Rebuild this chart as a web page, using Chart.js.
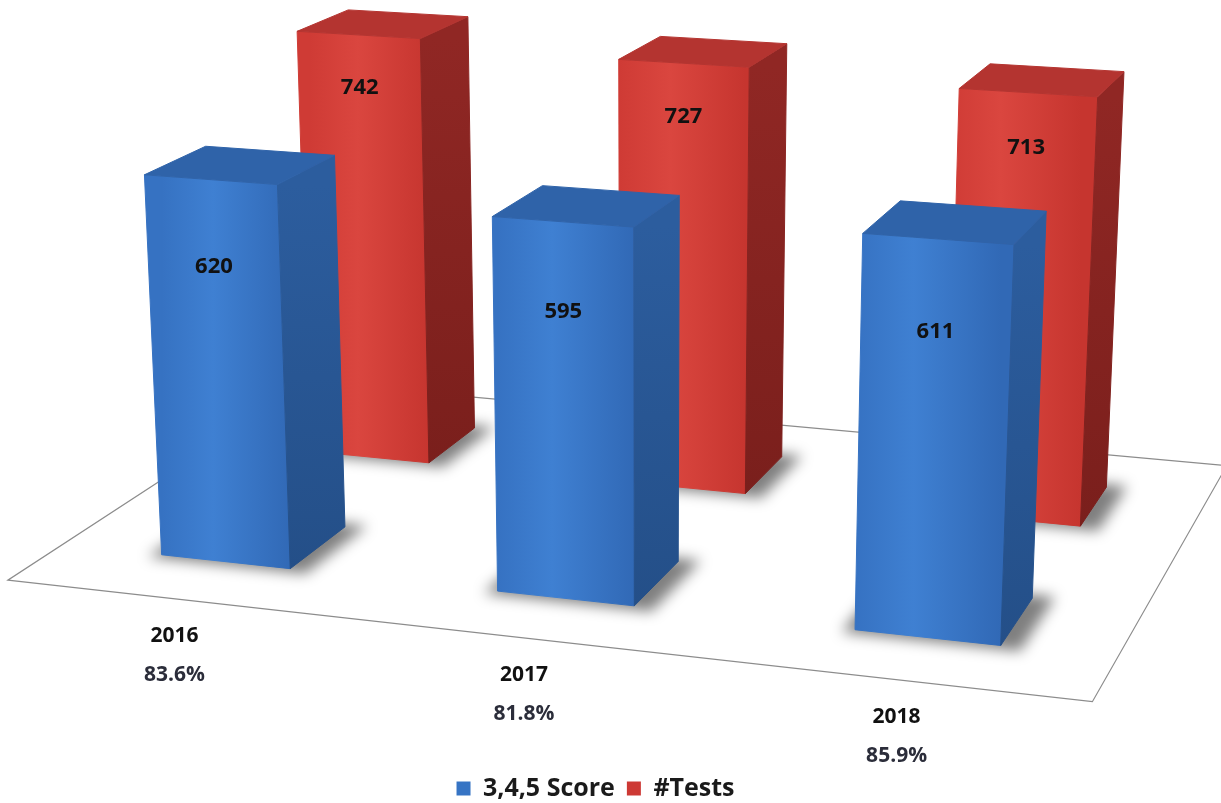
<!DOCTYPE html>
<html>
<head>
<meta charset="utf-8">
<script src="https://cdn.jsdelivr.net/npm/chart.js@4.4.1/dist/chart.umd.min.js"></script>
<style>
  html, body { margin: 0; padding: 0; background: #fff; }
  #wrap { width: 1221px; height: 803px; }
</style>
</head>
<body>
<div id="wrap"><canvas id="chart"></canvas></div>
<script>
const years = ['2016', '2017', '2018'];
const scoreCounts = [620, 595, 611];
const testCounts = [742, 727, 713];
const passRates = ['83.6%', '81.8%', '85.9%'];
const seriesNames = ['3,4,5 Score', '#Tests'];
const Y_MAX = 800;

// fake 3d: a small pinhole camera looking down at the floor
const cam = { yaw: 18, pitch: 18, dist: 3560, focal: 3500, ox: 648, oy: 520 };
const FLOOR_W = 1060;  // world units across the category axis
const ROW_D = 370;     // world depth of one series row
const MAX_H = 493;     // world height of Y_MAX
const labelDrop = [85, 55]; // how far below the bar top the value sits, per row

const faceColors = [
    { legend: '#3674c4', front: ['#3672c2', '#3f80d2', '#3169b6'], side: ['#2c5d9e', '#244f88'], top: '#2f63a9' },
    { legend: '#cd3934', front: ['#cf3b35', '#da463f', '#c6352f'], side: ['#902724', '#7a1f1c'], top: '#b43430' }
];

const rad = Math.PI / 180;
const sYaw = Math.sin(cam.yaw * rad), cYaw = Math.cos(cam.yaw * rad);
const sPit = Math.sin(cam.pitch * rad), cPit = Math.cos(cam.pitch * rad);
const camRight = [cYaw, 0, sYaw];
const camUp = [-sPit * sYaw, cPit, sPit * cYaw];
const camFwd = [-sYaw * cPit, -sPit, cYaw * cPit];
const eye = camFwd.map(v => -v * cam.dist);

function project(X, Y, Z) {
    const v = [X - eye[0], Y - eye[1], Z - eye[2]];
    const dot = (a) => a[0] * v[0] + a[1] * v[1] + a[2] * v[2];
    const depth = dot(camFwd);
    return { x: cam.ox + cam.focal * dot(camRight) / depth, y: cam.oy - cam.focal * dot(camUp) / depth };
}

function poly(ctx, pts, fill, stroke) {
    ctx.beginPath();
    pts.forEach((p, k) => k ? ctx.lineTo(p.x, p.y) : ctx.moveTo(p.x, p.y));
    ctx.closePath();
    if (fill) {
        ctx.fillStyle = fill;
        ctx.fill();
    }
    if (stroke) {
        ctx.strokeStyle = stroke;
        ctx.stroke();
    }
}

const labelFont = (size) => `bold ${size}px "Open Sans", "DejaVu Sans", sans-serif`;

const bars3d = {
    id: 'bars3d',
    beforeDatasetsDraw(chart) {
        const ctx = chart.ctx;
        const xs = chart.scales.x, ys = chart.scales.y;
        const kx = FLOOR_W / xs.width;
        const ky = MAX_H / (ys.getPixelForValue(0) - ys.getPixelForValue(Y_MAX));
        const midX = (xs.left + xs.right) / 2;
        const halfW = FLOOR_W / 2;
        const halfD = chart.data.datasets.length * ROW_D / 2;

        ctx.save();

        // floor
        ctx.lineWidth = 1.2;
        poly(ctx, [project(-halfW, 0, -halfD), project(halfW, 0, -halfD),
                   project(halfW, 0, halfD), project(-halfW, 0, halfD)], '#ffffff', '#8c8c8c');

        const boxes = [];
        chart.data.datasets.forEach((ds, di) => {
            const meta = chart.getDatasetMeta(di);
            meta.data.forEach((bar, i) => {
                const w = bar.width * kx;
                const x0 = (bar.x - midX) * kx - w / 2;
                const base = bar.base !== undefined ? bar.base : ys.getPixelForValue(0);
                const zMid = -halfD + ROW_D * (di + 0.5);
                boxes.push({ di, x0, x1: x0 + w, z0: zMid - w / 2, z1: zMid + w / 2,
                             h: (base - bar.y) * ky, value: ds.data[i] });
            });
        });
        boxes.sort((a, b) => b.di - a.di);

        // soft shadows on the floor
        ctx.filter = 'blur(7px)';
        boxes.forEach(b => {
            const g = 10;
            poly(ctx, [project(b.x0 - g, 0, b.z0 - g), project(b.x1 + g * 2, 0, b.z0 - g),
                       project(b.x1 + g * 2, 0, b.z1 + g), project(b.x0 - g, 0, b.z1 + g)], 'rgba(0,0,0,0.5)');
        });
        ctx.filter = 'none';

        ctx.lineWidth = 1;
        ctx.lineJoin = 'round';
        boxes.forEach(b => {
            const col = faceColors[b.di];
            const fl = project(b.x0, 0, b.z0), fr = project(b.x1, 0, b.z0);
            const tl = project(b.x0, b.h, b.z0), tr = project(b.x1, b.h, b.z0);
            const br = project(b.x1, 0, b.z1), tbr = project(b.x1, b.h, b.z1), tbl = project(b.x0, b.h, b.z1);

            const gf = ctx.createLinearGradient(fl.x, 0, fr.x, 0);
            gf.addColorStop(0, col.front[0]);
            gf.addColorStop(0.4, col.front[1]);
            gf.addColorStop(1, col.front[2]);
            poly(ctx, [fl, fr, tr, tl], gf, gf);

            const gs = ctx.createLinearGradient(0, tr.y, 0, fr.y);
            gs.addColorStop(0, col.side[0]);
            gs.addColorStop(1, col.side[1]);
            poly(ctx, [fr, br, tbr, tr], gs, gs);

            poly(ctx, [tl, tr, tbr, tbl], col.top, col.top);

            const lp = project((b.x0 + b.x1) / 2, b.h - labelDrop[b.di], b.z0);
            ctx.font = labelFont(22);
            ctx.fillStyle = '#111111';
            ctx.textAlign = 'center';
            ctx.textBaseline = 'middle';
            ctx.fillText(String(b.value), lp.x, lp.y);
        });

        // category labels in front of the floor
        chart.data.labels.forEach((lab, i) => {
            const p = project((xs.getPixelForValue(i) - midX) * kx, 0, -halfD);
            ctx.font = labelFont(21);
            ctx.textAlign = 'center';
            ctx.textBaseline = 'middle';
            ctx.fillStyle = '#111111';
            ctx.fillText(lab, p.x, p.y + 37);
            ctx.fillStyle = '#2b2d3a';
            ctx.fillText(passRates[i], p.x, p.y + 76);
        });

        ctx.restore();
        return false;
    }
};

new Chart(document.getElementById('chart'), {
    type: 'bar',
    data: {
        labels: years,
        datasets: [
            { label: seriesNames[0], data: scoreCounts, backgroundColor: faceColors[0].legend },
            { label: seriesNames[1], data: testCounts, backgroundColor: faceColors[1].legend }
        ]
    },
    options: {
        responsive: true,
        maintainAspectRatio: false,
        animation: false,
        layout: { padding: { left: 60, right: 90, top: 10, bottom: -8 } },
        datasets: { bar: { grouped: false, categoryPercentage: 1, barPercentage: 0.39 } },
        scales: {
            x: { display: false },
            y: { display: false, min: 0, max: Y_MAX }
        },
        plugins: {
            legend: {
                position: 'bottom',
                labels: {
                    boxWidth: 14,
                    boxHeight: 14,
                    padding: 12,
                    color: '#1a1a1a',
                    font: { family: '"Open Sans", "DejaVu Sans", sans-serif', size: 25, weight: 'bold' }
                }
            },
            tooltip: { enabled: false }
        }
    },
    plugins: [bars3d]
});
</script>
</body>
</html>
